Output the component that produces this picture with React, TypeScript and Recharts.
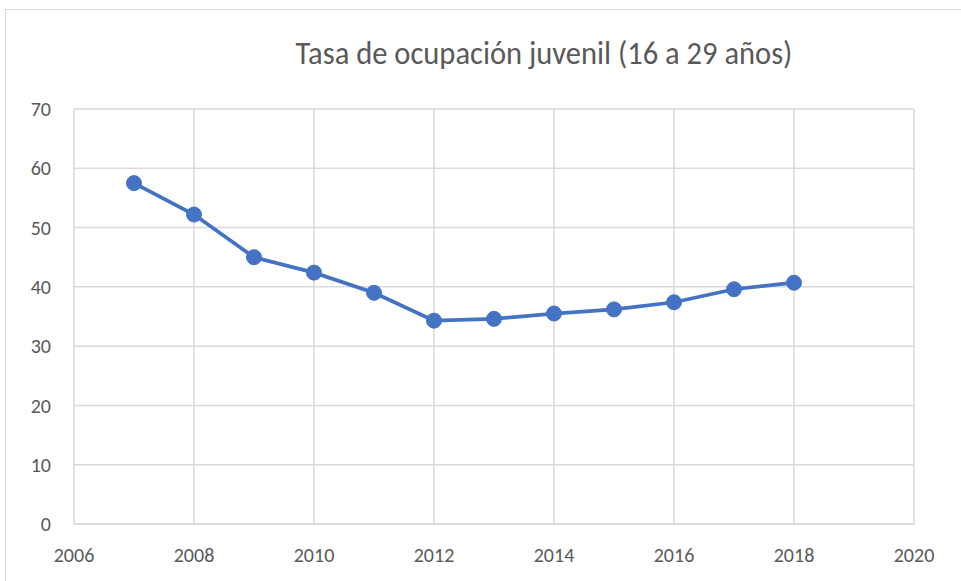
import React from "react";
import { LineChart, Line, XAxis, YAxis, CartesianGrid } from "recharts";

const years = [2007, 2008, 2009, 2010, 2011, 2012, 2013, 2014, 2015, 2016, 2017, 2018];
const rates = [57.5, 52.2, 45.0, 42.4, 39.0, 34.3, 34.6, 35.5, 36.2, 37.4, 39.6, 40.7];
const xTicks = [2006, 2008, 2010, 2012, 2014, 2016, 2018, 2020];
const yTicks = [0, 10, 20, 30, 40, 50, 60, 70];
const title = "Tasa de ocupación juvenil (16 a 29 años)";

const data = years.map((y, i) => ({ year: y, rate: rates[i] }));

const FONT = "Carlito, Lato, 'Open Sans', sans-serif";
const TEXT = "#595959";
const GRID = "#d9d9d9";
const BLUE = "#4472C4";

export default function App() {
  return (
    <div style={{ position: "absolute", left: 0, top: 0, width: 961, height: 581, background: "#fff", overflow: "hidden" }}>
      <div style={{ position: "absolute", left: 5, top: 9, width: 1100, height: 600, border: `1px solid ${GRID}`, boxSizing: "border-box" }} />
      <div
        style={{
          position: "absolute",
          left: 244,
          top: 34,
          width: 600,
          textAlign: "center",
          fontFamily: FONT,
          fontSize: 33,
          lineHeight: 1.2,
          color: TEXT,
          whiteSpace: "nowrap",
          transform: "scaleX(0.925)",
          transformOrigin: "center",
        }}
      >
        {title}
      </div>
      <div style={{ position: "absolute", left: 0, top: 0 }}>
        <LineChart width={961} height={581} data={data} margin={{ top: 109, right: 47, bottom: 0, left: 0 }}>
          <CartesianGrid stroke={GRID} strokeWidth={1.5} />
          <XAxis
            dataKey="year"
            type="number"
            domain={[2006, 2020]}
            ticks={xTicks}
            tickLine={false}
            axisLine={{ stroke: GRID, strokeWidth: 1.5 }}
            tickSize={0}
            tickMargin={24}
            height={57}
            tick={{ fill: TEXT, fontSize: 20, fontFamily: FONT }}
          />
          <YAxis
            type="number"
            domain={[0, 70]}
            ticks={yTicks}
            tickLine={false}
            axisLine={false}
            tickSize={0}
            tickMargin={23}
            width={74}
            tick={{ fill: TEXT, fontSize: 20, fontFamily: FONT }}
          />
          <Line
            dataKey="rate"
            stroke={BLUE}
            strokeWidth={3.75}
            dot={{ r: 7.5, fill: BLUE, stroke: BLUE, strokeWidth: 1 }}
            isAnimationActive={false}
          />
        </LineChart>
      </div>
    </div>
  );
}
